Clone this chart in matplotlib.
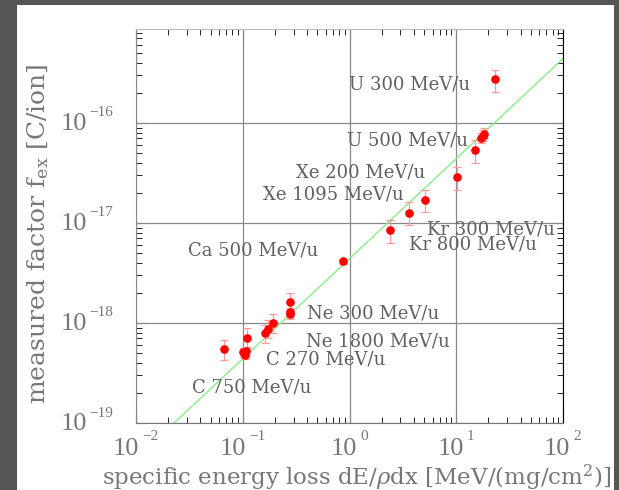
import numpy as np
import matplotlib
matplotlib.use("Agg")
import matplotlib.pyplot as plt
from matplotlib.patches import Rectangle
from matplotlib.transforms import blended_transform_factory, offset_copy

plt.rcParams['font.family'] = ['DejaVu Serif']
plt.rcParams['mathtext.fontset'] = 'dejavuserif'

# specific energy loss [MeV/(mg/cm2)] and measured factor f_ex [C/ion]
dedx = [0.067, 0.101, 0.104, 0.107, 0.110, 0.163, 0.171, 0.192, 0.277, 0.277, 0.280,
        0.87, 2.39, 3.59, 5.09, 10.2, 15.1, 16.9, 17.7, 18.3, 23.1]
fex = [5.5e-19, 5.1e-19, 4.8e-19, 5.2e-19, 7.1e-19, 8.0e-19, 8.65e-19, 9.9e-19, 1.61e-18, 1.28e-18, 1.22e-18,
       4.14e-18, 8.45e-18, 1.27e-17, 1.71e-17, 2.9e-17, 5.37e-17, 7.1e-17, 7.4e-17, 7.8e-17, 2.75e-16]
fex_lo = [4.3e-19, 4.6e-19, 4.4e-19, 4.7e-19, 5.6e-19, 6.3e-19, 7.0e-19, 7.9e-19, 1.35e-18, 1.16e-18, 1.1e-18,
          3.9e-18, 6.3e-18, 9.5e-18, 1.29e-17, 2.14e-17, 3.98e-17, 6.3e-17, 6.6e-17, 7.0e-17, 2.05e-16]
fex_hi = [6.8e-19, 5.6e-19, 5.3e-19, 5.7e-19, 8.9e-19, 9.6e-19, 1.07e-18, 1.23e-18, 2.0e-18, 1.4e-18, 1.35e-18,
          4.4e-18, 1.07e-17, 1.63e-17, 2.13e-17, 3.65e-17, 6.76e-17, 8.0e-17, 8.5e-17, 8.9e-17, 3.4e-16]

# linear fit f = k * dE/dx
fit_k = 4.4e-18

ion_labels = ['U 300 MeV/u', 'U 500 MeV/u', 'Xe 200 MeV/u', 'Xe 1095 MeV/u', 'Kr 300 MeV/u',
              'Kr 800 MeV/u', 'Ca 500 MeV/u', 'Ne 300 MeV/u', 'Ne 1800 MeV/u', 'C 270 MeV/u', 'C 750 MeV/u']
label_pos = [(0.499, 0.860), (0.494, 0.718), (0.375, 0.636), (0.298, 0.580), (0.681, 0.492),
             (0.639, 0.454), (0.122, 0.439), (0.400, 0.277), (0.398, 0.208), (0.304, 0.162), (0.131, 0.091)]

xdecades = [-2, -1, 0, 1, 2]
ydecades = [-19, -18, -17, -16]

txt = '#606060'
txt_light = '#777777'

fig = plt.figure(figsize=(6.19, 4.90), dpi=100)
fig.patch.set_facecolor('#555555')
fig.patches.append(Rectangle((17/619, 0), 597/619, 485/490, transform=fig.transFigure,
                             facecolor='white', edgecolor='none', zorder=-5))

ax = fig.add_axes([136/619, 1-423/490, 427/619, 394/490])
ax.set_zorder(1)
ax.patch.set_alpha(0)
ax.set_xscale('log')
ax.set_yscale('log')
ax.set_xlim(1e-2, 1e2)
ax.set_ylim(1e-19, 8.7e-16)

ax.grid(True, which='major', color='#888888', lw=0.9)
ax.set_axisbelow(True)

xx = np.array(ax.get_xlim())
ax.plot(xx, fit_k*xx, color='#88ee88', lw=1, zorder=2)

fex = np.array(fex)
yerr = [fex - np.array(fex_lo), np.array(fex_hi) - fex]
ax.errorbar(dedx, fex, yerr=yerr, fmt='o', color='red', ms=5.2, ecolor='#ff9999',
            elinewidth=0.9, capsize=3, capthick=0.9, zorder=3)

for s, (px, py) in zip(ion_labels, label_pos):
    ax.text(px, py, s, transform=ax.transAxes, ha='left', va='center', fontsize=13, color=txt)

# spines and ticks
ax.spines['left'].set_color('#888888')
ax.spines['bottom'].set_color('#777777')
ax.spines['top'].set_color('#bbbbbb')
ax.spines['right'].set_color('black')
ax.tick_params(which='both', direction='in', top=True, right=True, labelbottom=False, labelleft=False)
ax.tick_params(which='major', length=8)
ax.tick_params(which='minor', length=4)
ax.tick_params(axis='x', colors='#888888')
ax.tick_params(axis='y', colors='#888888')
ax.xaxis.set_minor_locator(matplotlib.ticker.LogLocator(base=10, subs=np.arange(2, 10), numticks=20))
ax.yaxis.set_minor_locator(matplotlib.ticker.LogLocator(base=10, subs=np.arange(2, 10), numticks=20))
ax.xaxis.set_minor_formatter(matplotlib.ticker.NullFormatter())
ax.yaxis.set_minor_formatter(matplotlib.ticker.NullFormatter())

# right-side ticks drawn black
for t in ax.yaxis.get_major_ticks() + ax.yaxis.get_minor_ticks():
    t.tick2line.set_color('black')
for t in ax.xaxis.get_major_ticks() + ax.xaxis.get_minor_ticks():
    t.tick2line.set_color('#bbbbbb')

# tick labels as 10 with small superscript, centred as a whole on the tick
tx = blended_transform_factory(ax.transData, ax.transAxes)
for e in xdecades:
    shift = 3.5 if e < 0 else 7.5
    ax.text(10.0**e, -0.066, '10', transform=offset_copy(tx, fig=fig, x=shift, y=0, units='dots'),
            ha='right', va='center', fontsize=19, family='Liberation Serif', color=txt_light, clip_on=False)
    ax.text(10.0**e, -0.066, ('\u2212%d' % -e) if e < 0 else '%d' % e,
            transform=offset_copy(tx, fig=fig, x=shift + 3, y=13, units='dots'),
            ha='left', va='center', fontsize=11, family='Liberation Serif', color=txt_light, clip_on=False)

ty = blended_transform_factory(ax.transAxes, ax.transData)
for e in ydecades:
    ax.text(0, 10.0**e, '10', transform=offset_copy(ty, fig=fig, x=-49, y=-1, units='dots'),
            ha='right', va='center', fontsize=19, family='Liberation Serif', color=txt_light, clip_on=False)
    ax.text(0, 10.0**e, '\u2212%d' % -e, transform=offset_copy(ty, fig=fig, x=-47, y=10, units='dots'),
            ha='left', va='center', fontsize=11, family='Liberation Serif', color=txt_light, clip_on=False)

fig.text(357/619, 1-478/490, r'specific energy loss dE/$\rho$dx [MeV/(mg/cm$^2$)]',
         ha='center', va='center', fontsize=16.5, color=txt_light)
fig.text(38/619, 1-234/490, r'measured factor f$_{\mathrm{ex}}$ [C/ion]', rotation=90,
         ha='center', va='center', fontsize=18, color=txt_light)

fig.savefig('out.png', dpi=100, facecolor=fig.get_facecolor())
